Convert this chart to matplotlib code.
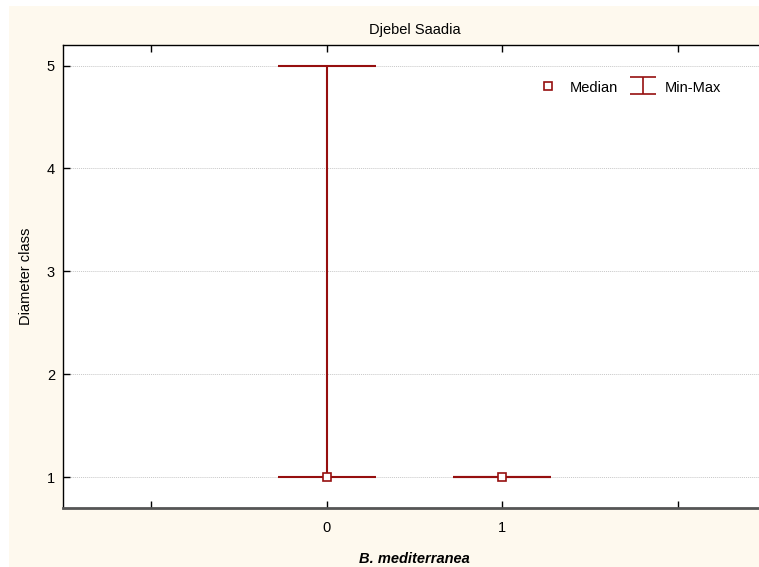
import numpy as np
import matplotlib.pyplot as plt
from matplotlib.patches import Rectangle
from matplotlib.legend_handler import HandlerErrorbar

plt.rcParams['font.family'] = ['Liberation Sans', 'DejaVu Sans']

# Daten: Median und Spannweite je Gruppe
gruppen = [0, 1]
median = [1, 1]
minimum = [1, 1]
maximum = [5, 1]

rot = '#960F0F'
W, H = 759, 567
fs = 10.5

fig = plt.figure(figsize=(W / 100, H / 100), dpi=100, facecolor='white')
# cremefarbener Hintergrund
fig.patches.append(Rectangle((9 / W, 0), 1 - 9 / W, (H - 6) / H,
                             transform=fig.transFigure, facecolor='#FEF9EE',
                             edgecolor='none', zorder=-10))

ax = fig.add_axes([63 / W, 1 - 508 / H, (766 - 63) / W, (508 - 45) / H])
ax.set_facecolor('white')

x = np.array(gruppen)
med = np.array(median)
lo = med - np.array(minimum)
hi = np.array(maximum) - med

ax.errorbar(x, med, yerr=[lo, hi], fmt='none', ecolor=rot,
            elinewidth=1.5, capsize=35.3, capthick=1.5, zorder=3)
ax.plot(x, med, 's', ms=5.6, mfc='white', mec=rot, mew=1.2, zorder=4,
        linestyle='none')

# Legendensymbole (nur fuer die Legende)
h_med, = ax.plot([np.nan], [np.nan], 's', ms=5.6, mfc='white', mec=rot,
                 mew=1.2, linestyle='none')
h_mm = ax.errorbar([np.nan], [np.nan], yerr=[[1], [1]], fmt='none',
                   ecolor=rot, elinewidth=1.2, capsize=9.7, capthick=1.2)

ax.set_xlim(-1.5, 2.5)
ax.set_ylim(0.7, 5.2)
ax.set_xticks([-1, 0, 1, 2])
ax.set_xticklabels(['', '0', '1', ''])
ax.set_yticks([1, 2, 3, 4, 5])
ax.yaxis.grid(True, color='#C8C8C8', linestyle=(0, (1, 1)), linewidth=0.7)
ax.set_axisbelow(True)

ax.tick_params(axis='both', direction='in', length=5, width=1, labelsize=fs,
               colors='black')
ax.tick_params(axis='x', top=True, pad=9.5)
ax.tick_params(axis='y', pad=5.8)

ax.spines['right'].set_visible(False)
ax.spines['bottom'].set_color('#555555')
ax.spines['bottom'].set_linewidth(2)
ax.spines['left'].set_linewidth(1)
ax.spines['top'].set_linewidth(1)

ax.set_title('Djebel Saadia', fontsize=fs, pad=8)
ax.set_xlabel('B. mediterranea', fontsize=fs, fontweight='bold',
              fontstyle='italic', labelpad=12)
ax.set_ylabel('Diameter class', fontsize=fs, labelpad=10)

fig.legend([h_med, h_mm], ['Median', 'Min-Max'], loc='center left',
           bbox_to_anchor=(534.5 / W, 1 - 87 / H), ncol=2, frameon=False,
           fontsize=fs, handlelength=1.85, handleheight=1.2,
           handletextpad=0.6, columnspacing=0.75, borderpad=0,
           borderaxespad=0,
           handler_map={type(h_mm): HandlerErrorbar(yerr_size=0.6)})

fig.savefig('out.png', dpi=100)
